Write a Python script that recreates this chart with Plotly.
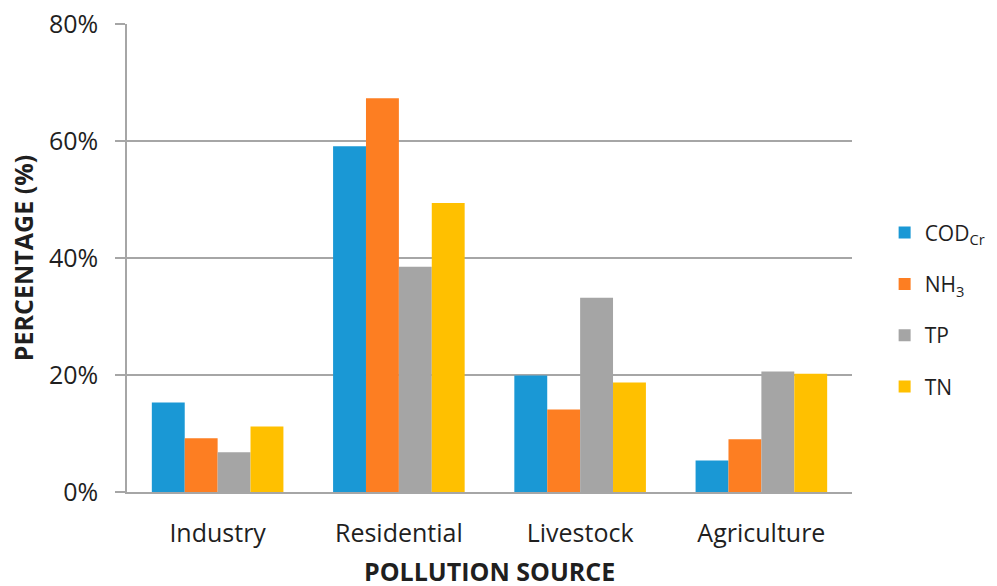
import plotly.graph_objects as go

# Share of pollutant load by source
sources = ["Industry", "Residential", "Livestock", "Agriculture"]
pollutants = ["COD<sub>Cr</sub>", "NH<sub>3</sub>", "TP", "TN"]
cod_cr = [15.3, 59.1, 19.9, 5.4]
nh3 = [9.2, 67.3, 14.1, 9.0]
tp = [6.8, 38.5, 33.2, 20.6]
tn = [11.2, 49.4, 18.7, 20.2]
series = [cod_cr, nh3, tp, tn]
colors = ["#1a98d5", "#fd7e22", "#a5a5a5", "#ffc000"]
y_ticks = [0, 20, 40, 60, 80]

FONT = "Open Sans"
AXIS_GRAY = "#a6a6a6"
TEXT = "#1f1f1f"

fig = go.Figure()
for name, vals, col in zip(pollutants, series, colors):
    fig.add_trace(go.Bar(
        x=sources, y=vals, name=name, legendgroup=name,
        marker=dict(color=col, line=dict(width=0)),
    ))

fig.update_layout(
    width=997, height=586,
    margin=dict(l=127, r=145, t=24, b=94, autoexpand=False),
    paper_bgcolor="white", plot_bgcolor="white",
    barmode="group", bargap=0.274, bargroupgap=0,
    font=dict(family=FONT, color=TEXT, size=25),
    legend=dict(
        x=1.045, y=0.389, xanchor="left", yanchor="middle",
        font=dict(size=21, family=FONT, color=TEXT),
        tracegroupgap=21, itemwidth=30,
    ),
    xaxis=dict(
        automargin=False,
        showline=True, linecolor=AXIS_GRAY, linewidth=1.5,
        ticks="", tickfont=dict(size=25), ticklabelstandoff=18,
    ),
    yaxis=dict(
        automargin=False,
        range=[0, 80], tickvals=y_ticks,
        ticktext=[f"{v}%" for v in y_ticks],
        showgrid=True, gridcolor=AXIS_GRAY, gridwidth=1.5,
        showline=True, linecolor=AXIS_GRAY, linewidth=1.5,
        ticks="outside", ticklen=10, tickcolor=AXIS_GRAY, tickwidth=1.5,
        tickfont=dict(size=25), ticklabelstandoff=12, zeroline=False,
        title=dict(text="<b>PERCENTAGE (%)</b>", font=dict(size=25), standoff=8),
    ),
)

# x-axis title sits low, right at the bottom edge of the figure
fig.add_annotation(
    text="<b>POLLUTION SOURCE</b>", xref="paper", yref="paper",
    x=0.5, y=-0.169, xanchor="center", yanchor="middle",
    showarrow=False, font=dict(size=25, family=FONT, color=TEXT),
)

fig.write_html("out.html")
